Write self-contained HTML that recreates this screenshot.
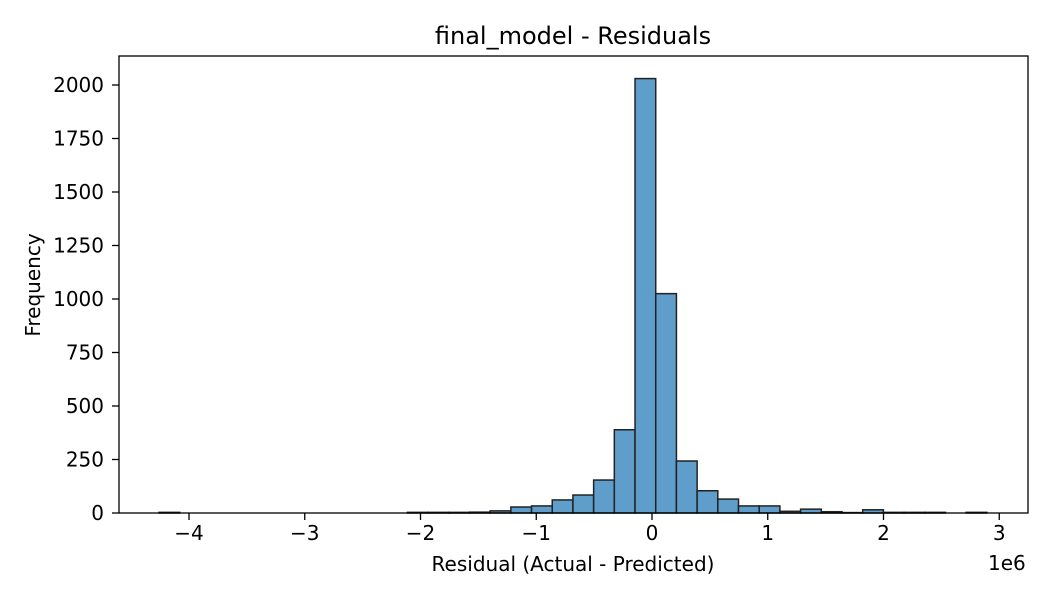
<!DOCTYPE html>
<html><head><meta charset="utf-8"><style>
body{margin:0;background:#fff}
svg{display:block;font-family:"DejaVu Sans","Liberation Sans",sans-serif}
</style></head><body>
<svg id="chart" width="1050" height="600">
<rect width="1050" height="600" fill="#fff"/>
<text x="573" y="44" text-anchor="middle" font-size="24">final_model - Residuals</text>
<g id="bars"></g>
<g id="xticks"></g>
<g id="yticks"></g>
<rect x="119" y="56" width="909" height="457" fill="none" stroke="#000" stroke-width="1.3"/>
<text x="573" y="571" text-anchor="middle" font-size="20">Residual (Actual - Predicted)</text>
<text x="988" y="570" font-size="20">1e6</text>
<text transform="translate(40,285) rotate(-90)" text-anchor="middle" font-size="20">Frequency</text>
</svg>
<script>
const binStart = -4.259;
const binWidth = 0.1788;
const counts = [3,0,0,0,0,0,0,0,0,0,0,0,3,3,3,4,10,28,33,61,84,154,389,2030,1025,243,104,65,33,33,8,18,6,2,15,3,3,3,0,3];
const xTicks = [-4,-3,-2,-1,0,1,2,3];
const xTickLabels = ["\u22124","\u22123","\u22122","\u22121","0","1","2","3"];
const yTicks = [0,250,500,750,1000,1250,1500,1750,2000];
const NS="http://www.w3.org/2000/svg";
const X = v => 652 + v*115.75;
const Y = v => 513 - v*0.214;
const bars=document.getElementById('bars');
counts.forEach((c,i)=>{
  if(c<=0) return;
  const r=document.createElementNS(NS,'rect');
  const x0=X(binStart+i*binWidth), x1=X(binStart+(i+1)*binWidth);
  r.setAttribute('x',x0);r.setAttribute('width',x1-x0);
  r.setAttribute('y',Y(c));r.setAttribute('height',513-Y(c));
  r.setAttribute('fill','#5f9ecb');r.setAttribute('stroke','#222');r.setAttribute('stroke-width','1.5');
  
  
  bars.appendChild(r);
});
const xt=document.getElementById('xticks');
xTicks.forEach((v,i)=>{
  const l=document.createElementNS(NS,'line');
  l.setAttribute('x1',X(v));l.setAttribute('x2',X(v));l.setAttribute('y1',513);l.setAttribute('y2',520);l.setAttribute('stroke','#000');l.setAttribute('stroke-width','1.3');
  
  
  xt.appendChild(l);
  const t=document.createElementNS(NS,'text');
  t.setAttribute('x',X(v));t.setAttribute('y',540);t.setAttribute('text-anchor','middle');t.setAttribute('font-size','20');
  t.textContent=xTickLabels[i];
  
  
  xt.appendChild(t);
});
const yt=document.getElementById('yticks');
yTicks.forEach(v=>{
  const l=document.createElementNS(NS,'line');
  l.setAttribute('x1',112);l.setAttribute('x2',119);l.setAttribute('y1',Y(v));l.setAttribute('y2',Y(v));l.setAttribute('stroke','#000');l.setAttribute('stroke-width','1.3');
  
  
  yt.appendChild(l);
  const t=document.createElementNS(NS,'text');
  t.setAttribute('x',104);t.setAttribute('y',Y(v)+7);t.setAttribute('text-anchor','end');t.setAttribute('font-size','20');
  t.textContent=String(v);
  
  
  yt.appendChild(t);
});
</script>
</body></html>
